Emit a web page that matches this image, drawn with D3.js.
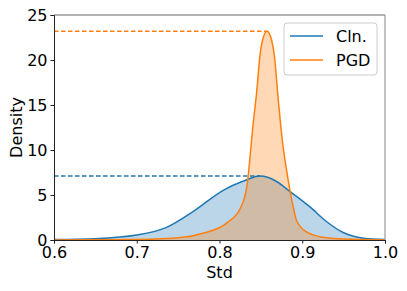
<!DOCTYPE html>
<html lang="en">
<head>
<meta charset="UTF-8" />
<script src="https://d3js.org/d3.v7.min.js"></script>
<style>
  body { margin: 0; background: #fff; }
  text { font-family: "DejaVu Sans", sans-serif; }
</style>
</head>
<body>
<svg width="407" height="291"></svg>
<script>
// density curves
const clnX = [0.6, 0.65, 0.7, 0.736, 0.768, 0.805, 0.829, 0.849, 0.869, 0.885, 0.909, 0.93, 0.95, 0.974, 1.0];
const clnY = [0.05, 0.15, 0.55, 1.4, 3.15, 5.55, 6.55, 7.1, 6.5, 5.4, 3.7, 2.0, 0.8, 0.2, 0.05];
const pgdX = [0.6, 0.7, 0.756, 0.78, 0.809, 0.825, 0.833, 0.841, 0.845, 0.849, 0.852, 0.8575, 0.863, 0.866, 0.871, 0.876, 0.881, 0.889, 0.893, 0.905, 0.925, 0.95, 1.0];
const pgdY = [0.0, 0.05, 0.3, 0.75, 1.9, 3.5, 5.9, 13.2, 16.5, 20.6, 22.2, 23.2, 22.2, 20.7, 15.6, 11.0, 7.8, 3.7, 2.2, 0.9, 0.3, 0.1, 0.0];
const seriesNames = ["Cln.", "PGD"];
const xTicks = [0.6, 0.7, 0.8, 0.9, 1.0];
const yTicks = [0, 5, 10, 15, 20, 25];

const colors = ["#1f77b4", "#ff7f0e"];
const m = {left: 54, top: 15, right: 22, bottom: 51};
const W = 407, H = 291;
const svg = d3.select("svg");

const x = d3.scaleLinear().domain([0.6, 1.0]).range([m.left, W - m.right]);
const y = d3.scaleLinear().domain([0, 25]).range([H - m.bottom, m.top]);

const series = [
  clnX.map((v, i) => [v, clnY[i]]),
  pgdX.map((v, i) => [v, pgdY[i]])
];

const area = d3.area().x(d => x(d[0])).y0(y(0)).y1(d => y(d[1])).curve(d3.curveMonotoneX);
const line = d3.line().x(d => x(d[0])).y(d => y(d[1])).curve(d3.curveMonotoneX);

series.forEach((s, i) => {
  svg.append("path").datum(s).attr("d", area)
    .attr("fill", colors[i]).attr("fill-opacity", 0.3);
});
series.forEach((s, i) => {
  svg.append("path").datum(s).attr("d", line)
    .attr("fill", "none").attr("stroke", colors[i]).attr("stroke-width", 1.5);
  const peak = s.reduce((a, b) => b[1] > a[1] ? b : a);
  svg.append("line")
    .attr("x1", x(0.6)).attr("x2", x(peak[0]))
    .attr("y1", y(peak[1])).attr("y2", y(peak[1]))
    .attr("stroke", colors[i]).attr("stroke-width", 1.5)
    .attr("stroke-dasharray", "4.5,2.5");
});

// frame: top/right spines lighter
svg.append("line").attr("x1", x(0.6)).attr("x2", x(1.0)).attr("y1", y(25)).attr("y2", y(25))
  .attr("stroke", "#999").attr("stroke-width", 1.5);
svg.append("line").attr("x1", x(1.0)).attr("x2", x(1.0)).attr("y1", y(25)).attr("y2", y(0))
  .attr("stroke", "#999").attr("stroke-width", 1.2);

const xAxis = svg.append("g").attr("transform", `translate(0,${y(0)})`)
  .call(d3.axisBottom(x).tickValues(xTicks).tickFormat(d3.format(".1f")).tickSize(3.5).tickPadding(3));
const yAxis = svg.append("g").attr("transform", `translate(${x(0.6)},0)`)
  .call(d3.axisLeft(y).tickValues(yTicks).tickSize(3.5).tickPadding(3));
[xAxis, yAxis].forEach(g => {
  g.selectAll("text").attr("font-size", 16).attr("fill", "#000").attr("font-family", "DejaVu Sans");
  g.select(".domain").attr("stroke", "#222");
  g.selectAll(".tick line").attr("stroke", "#222");
});
yAxis.selectAll("text").attr("dy", "0.36em");

svg.append("text").attr("x", x(0.8)).attr("y", 278).attr("text-anchor", "middle")
  .attr("font-size", 16).text("Std");
svg.append("text").attr("transform", `translate(22,${(y(0) + y(25)) / 2}) rotate(-90)`)
  .attr("text-anchor", "middle").attr("font-size", 16).text("Density");

// legend
const lg = svg.append("g").attr("transform", "translate(284,23)");
lg.append("rect").attr("width", 93).attr("height", 52).attr("rx", 3)
  .attr("fill", "#fff").attr("fill-opacity", 0.8).attr("stroke", "#ccc");
seriesNames.forEach((n, i) => {
  const yy = 13 + i * 24;
  lg.append("line").attr("x1", 6).attr("x2", 39).attr("y1", yy).attr("y2", yy)
    .attr("stroke", colors[i]).attr("stroke-width", 1.5);
  lg.append("text").attr("x", 52).attr("y", yy + 6).attr("font-size", 16).text(n);
});
</script>
</body>
</html>
